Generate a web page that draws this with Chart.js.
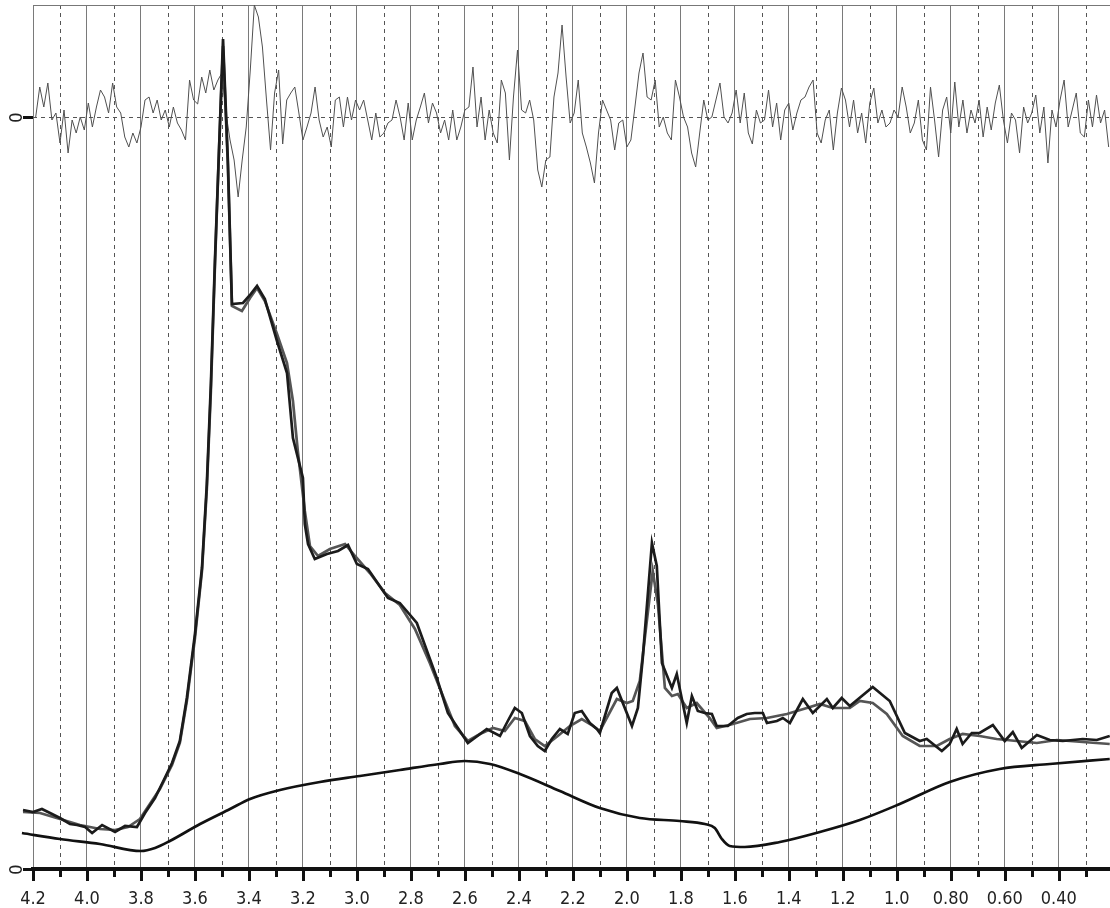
<!DOCTYPE html>
<html>
<head>
<meta charset="utf-8">
<script src="https://cdn.jsdelivr.net/npm/chart.js"></script>
<style>
  html, body { margin: 0; padding: 0; background: #fff; }
  canvas { display: block; }
</style>
</head>
<body>
<canvas id="c" width="1110" height="908"></canvas>
<script>
// x axis ticks (ppm)
const majorPpm = [4.2, 4.0, 3.8, 3.6, 3.4, 3.2, 3.0, 2.8, 2.6, 2.4, 2.2, 2.0, 1.8, 1.6, 1.4, 1.2, 1.0, 0.8, 0.6, 0.4];
const majorLabels = ['4.2', '4.0', '3.8', '3.6', '3.4', '3.2', '3.0', '2.8', '2.6', '2.4', '2.2', '2.0', '1.8', '1.6', '1.4', '1.2', '1.0', '0.80', '0.60', '0.40'];
const minorPpm = [4.1, 3.9, 3.7, 3.5, 3.3, 3.1, 2.9, 2.7, 2.5, 2.3, 2.1, 1.9, 1.7, 1.5, 1.3, 1.1, 0.9, 0.7, 0.5, 0.3];

// measured spectrum
const dataPpm = [4.237, 4.200, 4.167, 4.137, 4.100, 4.063, 4.037, 4.007, 3.981, 3.944,
  3.896, 3.859, 3.815, 3.785, 3.748, 3.719, 3.685, 3.656, 3.630, 3.600,
  3.574, 3.556, 3.541, 3.526, 3.511, 3.496, 3.478, 3.463, 3.422, 3.396,
  3.370, 3.341, 3.296, 3.259, 3.237, 3.200, 3.193, 3.181, 3.156, 3.111,
  3.070, 3.033, 3.000, 2.959, 2.885, 2.841, 2.778, 2.704, 2.663, 2.589,
  2.519, 2.470, 2.441, 2.415, 2.389, 2.359, 2.330, 2.304, 2.278, 2.248,
  2.219, 2.193, 2.167, 2.137, 2.111, 2.100, 2.056, 2.037, 1.981, 1.959,
  1.941, 1.907, 1.889, 1.870, 1.833, 1.815, 1.778, 1.759, 1.737, 1.711,
  1.685, 1.667, 1.626, 1.589, 1.556, 1.526, 1.496, 1.481, 1.444, 1.422,
  1.396, 1.348, 1.311, 1.259, 1.237, 1.204, 1.174, 1.089, 1.026, 0.970,
  0.915, 0.889, 0.833, 0.804, 0.778, 0.756, 0.722, 0.693, 0.644, 0.600,
  0.570, 0.537, 0.481, 0.433, 0.385, 0.311, 0.259, 0.211];
const dataVal = [5.9, 5.7, 6.0, 5.6, 5.1, 4.5, 4.4, 4.2, 3.6, 4.4,
  3.7, 4.3, 4.2, 5.6, 7.1, 8.7, 10.6, 12.8, 17.1, 23.5,
  30.1, 38.5, 48.5, 60.8, 71.8, 83.0, 70.8, 56.5, 56.6, 57.4,
  58.3, 57.0, 52.8, 49.6, 43.1, 39.1, 34.5, 32.5, 31.0, 31.5,
  31.8, 32.4, 30.5, 30.0, 27.1, 26.6, 24.6, 19.1, 15.6, 12.6,
  14.0, 13.3, 14.8, 16.1, 15.6, 13.3, 12.3, 11.8, 13.0, 14.0,
  13.5, 15.6, 15.8, 14.6, 14.0, 13.6, 17.6, 18.1, 14.3, 16.1,
  21.1, 32.6, 30.3, 20.6, 18.1, 19.5, 14.6, 17.3, 15.8, 15.6,
  15.5, 14.3, 14.3, 15.1, 15.5, 15.6, 15.6, 14.6, 14.8, 15.1,
  14.6, 17.0, 15.6, 17.0, 16.1, 17.1, 16.3, 18.2, 16.8, 13.6,
  12.8, 13.0, 11.8, 12.5, 14.0, 12.5, 13.6, 13.6, 14.4, 12.8,
  13.7, 12.1, 13.4, 12.9, 12.8, 13.0, 12.9, 13.3];

// fitted spectrum
const fitPpm = [4.237, 4.174, 4.100, 4.026, 3.952, 3.896, 3.848, 3.804, 3.767, 3.730,
  3.685, 3.656, 3.630, 3.600, 3.574, 3.556, 3.541, 3.526, 3.511, 3.496,
  3.478, 3.463, 3.426, 3.396, 3.370, 3.341, 3.296, 3.259, 3.237, 3.219,
  3.193, 3.174, 3.144, 3.100, 3.044, 3.007, 2.952, 2.896, 2.841, 2.785,
  2.730, 2.674, 2.637, 2.589, 2.544, 2.496, 2.452, 2.415, 2.378, 2.341,
  2.304, 2.256, 2.211, 2.167, 2.130, 2.100, 2.037, 2.000, 1.978, 1.952,
  1.926, 1.904, 1.885, 1.859, 1.833, 1.811, 1.778, 1.741, 1.693, 1.667,
  1.607, 1.544, 1.481, 1.407, 1.333, 1.285, 1.237, 1.174, 1.137, 1.089,
  1.037, 0.978, 0.915, 0.852, 0.804, 0.756, 0.693, 0.630, 0.556, 0.481,
  0.407, 0.311, 0.211];
const fitVal = [5.7, 5.6, 5.0, 4.4, 4.0, 3.9, 4.2, 5.0, 6.5, 8.0,
  10.4, 12.6, 16.8, 23.1, 29.8, 38.0, 47.8, 60.3, 71.8, 82.3,
  70.3, 56.3, 55.8, 57.1, 58.1, 56.8, 53.5, 50.6, 46.8, 41.8,
  35.8, 32.3, 31.3, 32.0, 32.5, 31.3, 29.6, 27.6, 26.4, 24.0,
  20.6, 16.8, 14.3, 12.8, 13.5, 14.1, 13.8, 15.1, 14.8, 13.0,
  12.3, 13.3, 14.3, 15.0, 14.4, 13.8, 17.0, 16.6, 16.8, 18.8,
  24.8, 29.8, 26.5, 18.1, 17.3, 17.5, 16.1, 16.6, 15.1, 14.1,
  14.5, 15.0, 15.1, 15.5, 16.1, 16.5, 16.1, 16.1, 16.8, 16.6,
  15.5, 13.3, 12.3, 12.3, 13.0, 13.5, 13.3, 13.0, 12.8, 12.6,
  12.9, 12.7, 12.5];

// baseline
const basePpm = [4.241, 4.100, 3.952, 3.800, 3.748, 3.693, 3.581, 3.470, 3.396, 3.285,
  3.137, 2.989, 2.841, 2.693, 2.600, 2.507, 2.396, 2.248, 2.100, 1.952,
  1.804, 1.711, 1.674, 1.648, 1.619, 1.563, 1.433, 1.285, 1.137, 0.989,
  0.804, 0.619, 0.433, 0.211];
const baseVal = [3.6, 3.0, 2.5, 1.8, 2.1, 2.8, 4.5, 6.0, 7.0, 7.9,
  8.7, 9.3, 9.9, 10.5, 10.8, 10.5, 9.5, 7.8, 6.1, 5.1,
  4.8, 4.5, 4.1, 3.0, 2.3, 2.2, 2.7, 3.7, 4.9, 6.5,
  8.7, 10.0, 10.5, 11.0];

// residual (data - fit)
const residPpm = [4.19, 4.175, 4.16, 4.145, 4.13, 4.115, 4.1, 4.085, 4.07, 4.055,
  4.04, 4.025, 4.01, 3.995, 3.98, 3.965, 3.95, 3.935, 3.92, 3.905,
  3.89, 3.875, 3.86, 3.845, 3.83, 3.815, 3.8, 3.785, 3.77, 3.755,
  3.74, 3.725, 3.71, 3.695, 3.68, 3.665, 3.65, 3.635, 3.62, 3.605,
  3.59, 3.575, 3.56, 3.545, 3.53, 3.515, 3.5, 3.485, 3.47, 3.455,
  3.44, 3.425, 3.41, 3.395, 3.38, 3.365, 3.35, 3.335, 3.32, 3.305,
  3.29, 3.275, 3.26, 3.245, 3.23, 3.215, 3.2, 3.185, 3.17, 3.155,
  3.14, 3.125, 3.11, 3.095, 3.08, 3.065, 3.05, 3.035, 3.02, 3.005,
  2.99, 2.975, 2.96, 2.945, 2.93, 2.915, 2.9, 2.885, 2.87, 2.855,
  2.84, 2.825, 2.81, 2.795, 2.78, 2.765, 2.75, 2.735, 2.72, 2.705,
  2.69, 2.675, 2.66, 2.645, 2.63, 2.615, 2.6, 2.585, 2.57, 2.555,
  2.54, 2.525, 2.51, 2.495, 2.48, 2.465, 2.45, 2.435, 2.42, 2.405,
  2.39, 2.375, 2.36, 2.345, 2.33, 2.315, 2.3, 2.285, 2.27, 2.255,
  2.24, 2.225, 2.21, 2.195, 2.18, 2.165, 2.15, 2.135, 2.12, 2.105,
  2.09, 2.075, 2.06, 2.045, 2.03, 2.015, 2.0, 1.985, 1.97, 1.955,
  1.94, 1.925, 1.91, 1.895, 1.88, 1.865, 1.85, 1.835, 1.82, 1.805,
  1.79, 1.775, 1.76, 1.745, 1.73, 1.715, 1.7, 1.685, 1.67, 1.655,
  1.64, 1.625, 1.61, 1.595, 1.58, 1.565, 1.55, 1.535, 1.52, 1.505,
  1.49, 1.475, 1.46, 1.445, 1.43, 1.415, 1.4, 1.385, 1.37, 1.355,
  1.34, 1.325, 1.31, 1.295, 1.28, 1.265, 1.25, 1.235, 1.22, 1.205,
  1.19, 1.175, 1.16, 1.145, 1.13, 1.115, 1.1, 1.085, 1.07, 1.055,
  1.04, 1.025, 1.01, 0.995, 0.98, 0.965, 0.95, 0.935, 0.92, 0.905,
  0.89, 0.875, 0.86, 0.845, 0.83, 0.815, 0.8, 0.785, 0.77, 0.755,
  0.74, 0.725, 0.71, 0.695, 0.68, 0.665, 0.65, 0.635, 0.62, 0.605,
  0.59, 0.575, 0.56, 0.545, 0.53, 0.515, 0.5, 0.485, 0.47, 0.455,
  0.44, 0.425, 0.41, 0.395, 0.38, 0.365, 0.35, 0.335, 0.32, 0.305,
  0.29, 0.275, 0.26, 0.245, 0.23, 0.215];
const residVal = [0.0, 3.0, 1.0, 3.4, -0.3, 0.4, -2.6, 0.7, -3.6, -0.3,
  -1.6, 0.0, -1.3, 1.4, -1.0, 1.0, 2.7, 2.0, 0.4, 3.4,
  1.0, 0.4, -2.0, -3.0, -1.6, -2.6, -1.0, 1.7, 2.0, 0.4,
  1.7, -0.3, 0.7, -1.0, 1.0, -0.6, -1.3, -2.3, 3.7, 1.7,
  1.3, 4.0, 2.4, 4.7, 2.7, 3.7, 4.4, 0.4, -2.3, -4.3,
  -8.0, -4.3, -1.0, 4.7, 11.2, 10.0, 7.0, 1.7, -3.3, 2.4,
  4.7, -2.7, 1.7, 2.4, 3.0, 0.4, -2.3, -1.0, 0.4, 3.0,
  -0.3, -2.0, -1.0, -3.0, 1.7, 2.0, -1.0, 2.0, -0.3, 1.7,
  0.7, 1.7, -0.3, -2.3, 0.4, -2.0, -1.6, -0.6, -0.3, 1.7,
  0.0, -2.3, 1.4, -2.3, -0.3, 1.0, 2.4, -0.6, 1.4, 0.4,
  -1.6, -0.3, -2.3, 0.7, -2.3, -1.0, 0.7, 1.0, 5.0, -1.0,
  2.0, -2.3, 0.7, -1.6, -2.6, 3.7, 2.4, -4.3, 2.0, 6.7,
  0.7, 0.4, 1.7, -0.3, -5.3, -7.0, -4.3, -4.0, 2.0, 4.4,
  9.2, 4.0, -0.6, 0.4, 3.7, -1.6, -3.0, -4.6, -6.6, -1.6,
  1.7, 0.7, -0.3, -3.3, -0.6, -0.3, -3.0, -2.3, 1.0, 4.4,
  6.4, 2.0, 1.7, 3.7, -1.0, 0.0, -1.6, -2.3, 3.7, 2.0,
  0.0, -1.0, -3.6, -5.0, -1.6, 1.7, -0.3, 0.0, 1.7, 3.4,
  0.0, -0.6, 0.4, 2.7, -0.6, 2.4, -1.6, -2.7, 0.7, -0.6,
  -0.3, 2.7, -1.0, 1.4, -2.3, 0.7, 1.4, -1.3, 0.4, 1.7,
  2.0, 3.0, 3.7, -1.6, -2.6, -0.3, 0.7, -3.3, 0.4, 2.9,
  1.7, -1.0, 1.7, -1.6, 0.4, -2.6, 1.4, 2.9, -0.6, 0.7,
  -1.0, -0.6, 0.7, 0.0, 3.0, 1.0, -1.6, -0.6, 1.7, -2.3,
  -3.3, 3.0, -0.3, -4.0, 0.7, 2.0, -1.6, 3.5, -1.0, 1.7,
  -1.6, 0.7, -0.6, 1.7, -2.0, 1.0, -1.3, 1.4, 3.2, -0.3,
  -2.6, 0.4, -0.3, -3.6, 1.0, -0.6, 0.4, 2.2, -1.6, 1.0,
  -4.6, 0.7, -1.0, 1.7, 3.7, -1.0, 0.7, 2.4, -1.6, -2.0,
  1.7, -1.0, 2.2, -0.6, 0.7, -3.0];

if (residPpm.length !== residVal.length) throw new Error('resid ' + residPpm.length + ' vs ' + residVal.length);
if (dataPpm.length !== dataVal.length) throw new Error('data ' + dataPpm.length + ' vs ' + dataVal.length);
if (fitPpm.length !== fitVal.length) throw new Error('fit ' + fitPpm.length + ' vs ' + fitVal.length);
if (basePpm.length !== baseVal.length) throw new Error('base ' + basePpm.length + ' vs ' + baseVal.length);

const toPoints = (xs, ys) => xs.map((x, i) => ({ x: x, y: ys[i] }));
const allTicks = majorPpm.concat(minorPpm).sort((a, b) => b - a);
const isMajor = v => majorPpm.some(m => Math.abs(m - v) < 1e-6);

const labelFont = '"Liberation Sans Narrow", "DejaVu Sans Condensed", "Liberation Sans", Arial, sans-serif';

const decor = {
    id: 'decor',
    beforeDatasetsDraw(chart) {
        const { ctx, chartArea: a, scales: { x, y2 } } = chart;
        ctx.save();
        ctx.strokeStyle = '#555';
        ctx.lineWidth = 1;
        ctx.setLineDash([4, 4]);
        minorPpm.forEach(v => {
            const px = Math.round(x.getPixelForValue(v)) + 0.5;
            ctx.beginPath();
            ctx.moveTo(px, a.top);
            ctx.lineTo(px, a.bottom);
            ctx.stroke();
        });
        const r0 = Math.round(y2.getPixelForValue(0)) + 0.5;
        ctx.beginPath();
        ctx.moveTo(a.left, r0);
        ctx.lineTo(a.right, r0);
        ctx.stroke();
        ctx.setLineDash([]);
        ctx.strokeStyle = '#777';
        ctx.beginPath();
        ctx.moveTo(a.left, a.top + 0.5);
        ctx.lineTo(a.right, a.top + 0.5);
        ctx.stroke();
        ctx.restore();
    },
    afterDraw(chart) {
        const { ctx, chartArea: a, scales: { x, y, y2 } } = chart;
        ctx.save();
        ctx.strokeStyle = '#111';
        ctx.lineWidth = 3;
        allTicks.forEach(v => {
            const px = Math.round(x.getPixelForValue(v)) + 0.5;
            ctx.beginPath();
            ctx.moveTo(px, a.bottom);
            ctx.lineTo(px, a.bottom + (isMajor(v) ? 12 : 8));
            ctx.stroke();
        });
        ctx.fillStyle = '#222';
        ctx.font = '18px ' + labelFont;
        ctx.textAlign = 'center';
        ctx.textBaseline = 'middle';
        [y, y2].forEach(s => {
            const py = Math.round(s.getPixelForValue(0)) + 0.5;
            ctx.beginPath();
            ctx.moveTo(a.left - 10, py);
            ctx.lineTo(a.left, py);
            ctx.stroke();
            ctx.save();
            ctx.translate(16, py);
            ctx.rotate(-Math.PI / 2);
            ctx.fillText('0', 0, 1);
            ctx.restore();
        });
        ctx.restore();
    }
};

new Chart(document.getElementById('c').getContext('2d'), {
    type: 'line',
    data: {
        datasets: [
            {
                label: 'Data',
                data: toPoints(dataPpm, dataVal),
                borderColor: '#1b1b1b',
                borderWidth: 2.7,
                pointRadius: 0,
                yAxisID: 'y',
                clip: false
            },
            {
                label: 'Fit',
                data: toPoints(fitPpm, fitVal),
                borderColor: '#555555',
                borderWidth: 2.7,
                pointRadius: 0,
                yAxisID: 'y',
                clip: false
            },
            {
                label: 'Baseline',
                data: toPoints(basePpm, baseVal),
                borderColor: '#111111',
                borderWidth: 2.7,
                pointRadius: 0,
                cubicInterpolationMode: 'monotone',
                yAxisID: 'y',
                clip: false
            },
            {
                label: 'Residual',
                data: toPoints(residPpm, residVal),
                borderColor: '#505050',
                borderWidth: 1,
                pointRadius: 0,
                yAxisID: 'y2',
                clip: false
            }
        ]
    },
    options: {
        responsive: false,
        animation: false,
        devicePixelRatio: 1,
        layout: {
            padding: { left: 33, right: 0, top: 5, bottom: 0 }
        },
        plugins: {
            legend: { display: false },
            tooltip: { enabled: false },
            title: { display: false }
        },
        scales: {
            x: {
                type: 'linear',
                reverse: true,
                min: 0.21,
                max: 4.2,
                afterBuildTicks: s => { s.ticks = allTicks.map(v => ({ value: v })); },
                afterFit: s => { s.height = 39; },
                grid: {
                    color: c => (c.tick && isMajor(c.tick.value)) ? '#7a7a7a' : 'rgba(0,0,0,0)',
                    lineWidth: 1,
                    drawTicks: false
                },
                border: { color: '#111', width: 4 },
                ticks: {
                    autoSkip: false,
                    maxRotation: 0,
                    padding: 20,
                    color: '#222',
                    font: { family: labelFont, size: 18 },
                    callback: v => {
                        const i = majorPpm.findIndex(m => Math.abs(m - v) < 1e-6);
                        return i >= 0 ? majorLabels[i] : '';
                    }
                }
            },
            y: {
                display: false,
                min: 0,
                max: 86.4
            },
            y2: {
                display: false,
                min: -75.2,
                max: 11.2
            }
        }
    },
    plugins: [decor]
});
</script>
</body>
</html>
